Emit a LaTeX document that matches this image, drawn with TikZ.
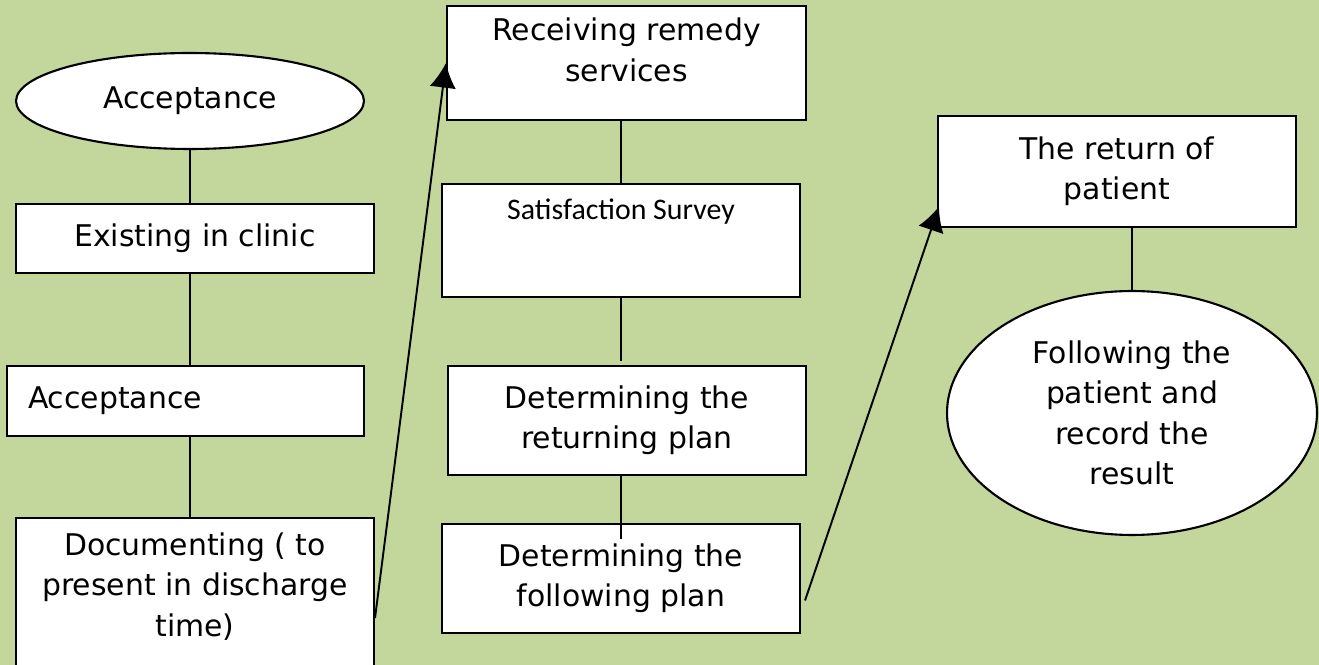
\documentclass[tikz,border=0pt]{standalone}
\usepackage{fontspec}
\setmainfont{DejaVu Sans}
\newfontfamily\surveyfont{Carlito}
\usetikzlibrary{shapes.geometric,arrows.meta,calc}
\definecolor{leafgreen}{HTML}{C3D69B}

\tikzset{
  stage/.style={rectangle, draw, fill=white, line width=1.2pt, align=center,
    font=\fontsize{17}{23}\selectfont},
  oval/.style={ellipse, draw, fill=white, line width=1.2pt, align=center,
    inner sep=0pt, font=\fontsize{17}{23}\selectfont},
  link/.style={line width=1.1pt},
  flow/.style={line width=1.1pt, -{Latex[length=14pt,width=15pt]}}
}

\begin{document}
\begin{tikzpicture}[x=0.02cm, y=-0.02cm]
  \clip (0,0) rectangle (1319,665);
  \fill[leafgreen] (0,0) rectangle (1319,665);

  % left column
  \node[oval, minimum width=6.96cm, minimum height=1.92cm] (accept) at (190,101) {Acceptance};
  \node[stage, minimum width=7.16cm, minimum height=1.38cm] (clinic) at (195,238.5) {Existing in clinic};
  \node[stage, text width=6.3cm, inner xsep=0.42cm, minimum height=1.4cm, align=left] (accb) at (185.5,401) {Acceptance};
  \node[stage, minimum width=7.16cm, minimum height=3.12cm] (doc) at (195,596) {Documenting ( to\\present in discharge\\time)\\[-10pt]};

  % middle column
  \node[stage, minimum width=7.18cm, minimum height=2.28cm] (recv) at (626.5,63) {Receiving remedy\\services\\[-8pt]};
  \node[stage, minimum width=7.16cm, minimum height=2.26cm] (survey) at (621,240.5) {};
  \node[font=\surveyfont\fontsize{17}{20}\selectfont, anchor=base] (surveytext) at ($(survey.north)+(0,37)$) {Satisfaction Survey};
  \node[stage, minimum width=7.16cm, minimum height=2.18cm] (plan1) at (627,420.5) {Determining the\\returning plan};
  \node[stage, minimum width=7.16cm, minimum height=2.18cm] (plan2) at (621,578.5) {Determining the\\following plan};

  % right column
  \node[stage, minimum width=7.16cm, minimum height=2.22cm] (ret) at (1117,171.5) {The return of\\patient};
  \node[oval, minimum width=7.4cm, minimum height=4.88cm] (follow) at (1132,413) {Following the\\patient and\\record the\\result};

  \draw[link] (accept.south) -- (clinic.north -| accept.south);
  \draw[link] (clinic.south -| accept.south) -- (accb.north -| accept.south);
  \draw[link] (accb.south -| accept.south) -- (doc.north -| accept.south);
  \draw[link] (recv.south -| survey.north) -- (survey.north);
  \draw[link] (survey.south) -- ($(plan1.north -| survey.south)+(0,-4)$);
  \draw[link] (plan1.south -| survey.south) -- ($(plan2.north)+(0,16)$);
  \draw[link] (ret.south -| follow.north) -- (follow.north);

  \draw[flow] ($(doc.east)+(0,22)$) -- (recv.west);
  \draw[flow] ($(plan2.east)+(4,22)$) -- ($(ret.west)+(2,35)$);
\end{tikzpicture}
\end{document}
